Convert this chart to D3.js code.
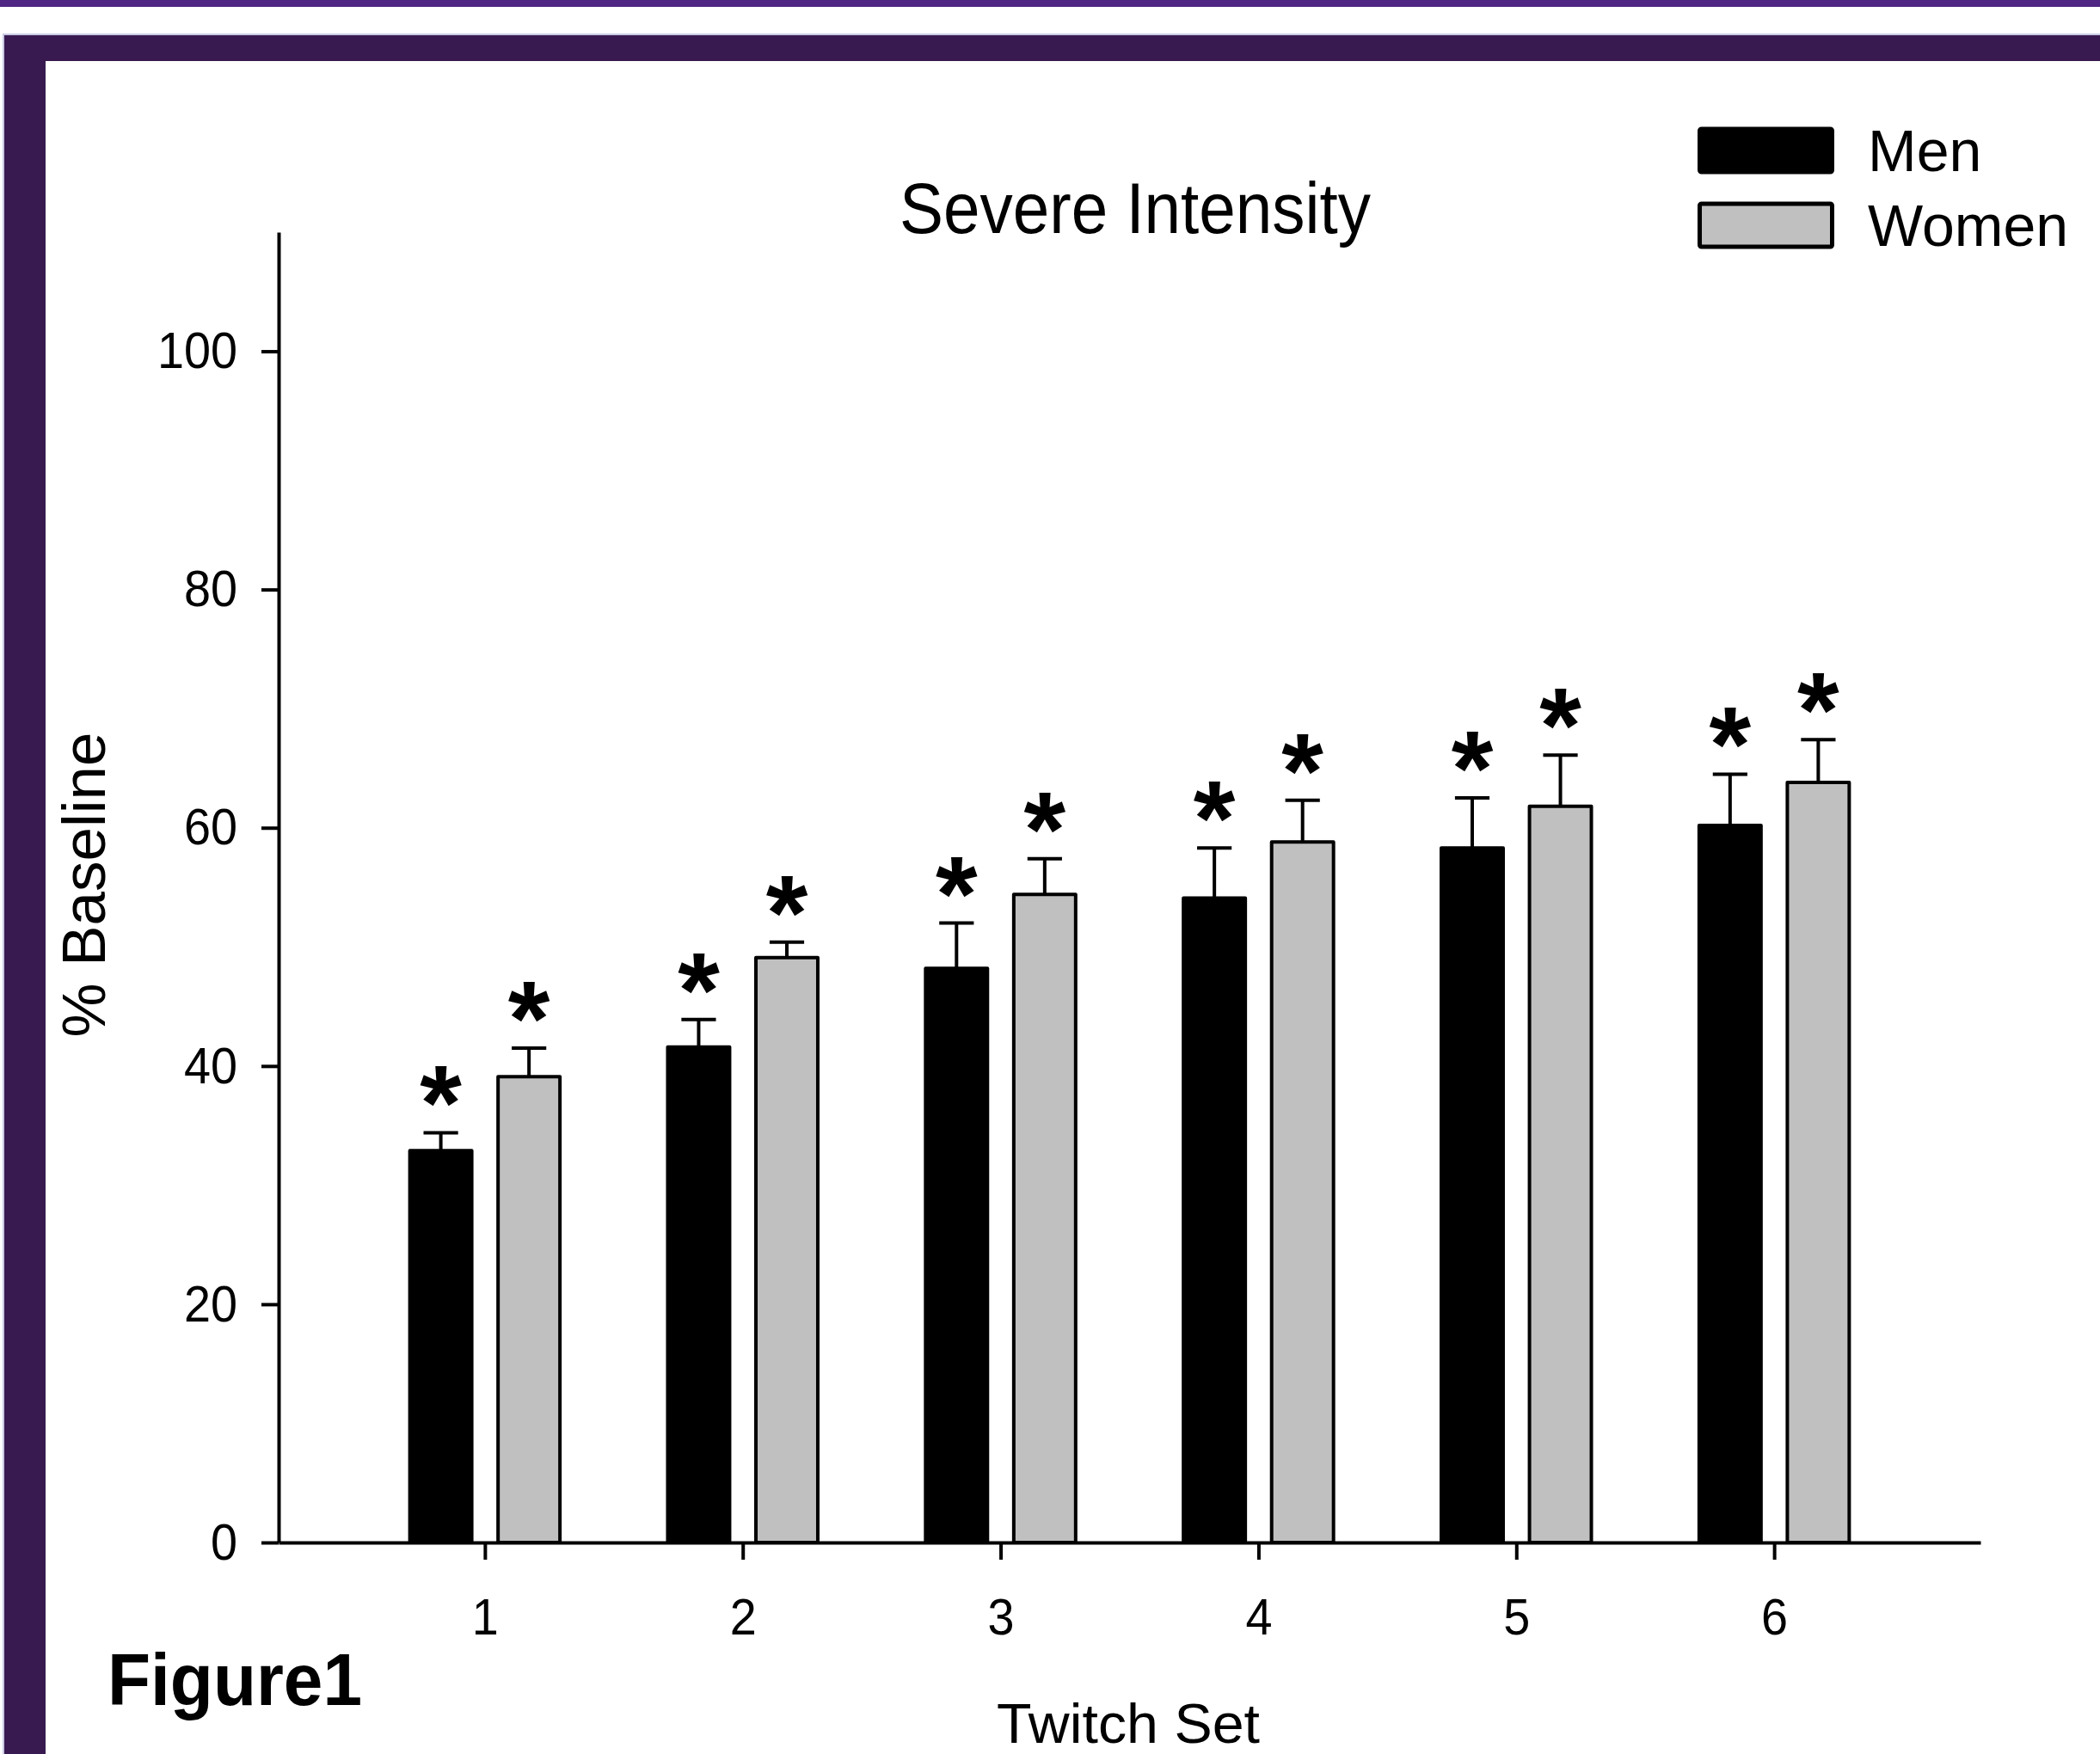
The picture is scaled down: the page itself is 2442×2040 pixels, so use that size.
<!DOCTYPE html>
<html><head><meta charset="utf-8">
<script src="https://cdn.jsdelivr.net/npm/d3@7"></script>
<style>
body{margin:0;background:#fff}
svg{display:block}
text{font-family:"Liberation Sans", Arial, sans-serif;}
</style>
</head><body>
<svg id="chart" width="2442" height="2040"></svg>
<script>
// ---- data ----
const categories = ["1", "2", "3", "4", "5", "6"];
const menMean   = [32.9, 41.6, 48.2, 54.1, 58.3, 60.2];
const menSE     = [1.5, 2.3, 3.8, 4.2, 4.2, 4.3];
const womenMean = [39.1, 49.1, 54.4, 58.8, 61.8, 63.8];
const womenSE   = [2.4, 1.3, 3.0, 3.5, 4.3, 3.6];
const yTickValues = [0, 20, 40, 60, 80, 100];
const seriesNames = ["Men", "Women"];
const seriesFill = ["#000000", "#c0c0c0"];
const titleText = "Severe Intensity";
const xLabel = "Twitch Set";
const yLabel = "% Baseline";
const figLabel = "Figure1";

const svg = d3.select("#chart");

// ---- frame ----
svg.append("rect").attr("x",0).attr("y",0).attr("width",2442).attr("height",8).attr("fill","#4f2683");
svg.append("rect").attr("x",3).attr("y",39).attr("width",2439).attr("height",2001).attr("fill","#c9c9e3");
svg.append("rect").attr("x",5).attr("y",41).attr("width",2437).attr("height",1999).attr("fill","#381a50");
svg.append("rect").attr("x",53).attr("y",71).attr("width",2389).attr("height",1969).attr("fill","#ffffff");

function squeeze(sel, k){
  sel.each(function(){
    const L = this.getComputedTextLength();
    d3.select(this).attr("textLength", L*k).attr("lengthAdjust","spacingAndGlyphs");
  });
}

// ---- scales ----
const x = d3.scaleLinear().domain([0.2, 6.8]).range([324, 2303]);
const y = d3.scaleLinear().domain([0, 110]).range([1794, 270]);

// ---- axes ----
const gy = svg.append("g").attr("transform","translate(324,0)")
  .call(d3.axisLeft(y).tickValues(yTickValues).tickSize(20).tickSizeOuter(0).tickPadding(28));
const gx = svg.append("g").attr("transform","translate(0,1794)")
  .call(d3.axisBottom(x).tickValues(categories.map((c,i)=>i+1)).tickFormat(d=>categories[d-1])
    .tickSize(20).tickSizeOuter(0).tickPadding(44));
[gy, gx].forEach(g=>{
  g.attr("font-size",60).attr("font-family",'"Liberation Sans", Arial, sans-serif');
  g.select(".domain").attr("stroke","#000").attr("stroke-width",4);
  g.selectAll(".tick line").attr("stroke","#000").attr("stroke-width",4);
  g.selectAll(".tick text").attr("fill","#000");
  squeeze(g.selectAll(".tick text"), 0.93);
});

// ---- bars ----
const offsets = [-0.171, 0.171];
const barW = x(0.2 + 0.24) - x(0.2);
const capHalf = x(0.2 + 0.067) - x(0.2);
const series = [
  {name: seriesNames[0], mean: menMean, se: menSE, fill: seriesFill[0], off: offsets[0]},
  {name: seriesNames[1], mean: womenMean, se: womenSE, fill: seriesFill[1], off: offsets[1]}
];
const gb = svg.append("g");
series.forEach(s=>{
  s.mean.forEach((m,i)=>{
    const cx = x(i + 1 + s.off);
    const top = y(m + s.se[i]);
    gb.append("line").attr("x1",cx).attr("x2",cx).attr("y1",y(m)).attr("y2",top)
      .attr("stroke","#000").attr("stroke-width",4);
    gb.append("line").attr("x1",cx-capHalf).attr("x2",cx+capHalf).attr("y1",top).attr("y2",top)
      .attr("stroke","#000").attr("stroke-width",4);
    gb.append("rect").attr("x",cx-barW/2).attr("y",y(m)).attr("width",barW).attr("height",y(0)-y(m))
      .attr("fill",s.fill).attr("stroke","#000").attr("stroke-width",4).attr("stroke-linejoin","round");
    gb.append("text").attr("x",cx).attr("y",top+9).attr("text-anchor","middle")
      .attr("font-size",125).attr("font-weight","bold").attr("fill","#000").text("*");
  });
});
gx.raise();

// ---- title & labels ----
svg.append("text").attr("x",1320).attr("y",271).attr("text-anchor","middle")
  .attr("font-size",84).attr("fill","#000").attr("textLength",548).attr("lengthAdjust","spacingAndGlyphs").text(titleText);
svg.append("text").attr("x",1312).attr("y",2027).attr("text-anchor","middle")
  .attr("font-size",65).attr("fill","#000").attr("textLength",306).attr("lengthAdjust","spacingAndGlyphs").text(xLabel);
svg.append("text").attr("transform","translate(122,1029) rotate(-90)").attr("text-anchor","middle")
  .attr("font-size",71).attr("fill","#000").text(yLabel);
svg.append("text").attr("x",125).attr("y",1983)
  .attr("font-size",86).attr("font-weight","bold").attr("fill","#000").attr("textLength",296).attr("lengthAdjust","spacingAndGlyphs").text(figLabel);

// ---- legend ----
const lg = svg.append("g");
series.forEach((s,i)=>{
  const yy = 150 + i*87;
  lg.append("rect").attr("x",1976.5).attr("y",yy).attr("width",154).attr("height",50)
    .attr("fill",s.fill).attr("stroke","#000").attr("stroke-width",5).attr("rx",2).attr("stroke-linejoin","round");
  lg.append("text").attr("x",2172).attr("y",yy+49).attr("font-size",68).attr("fill","#000").text(s.name);
});
</script>
</body></html>
